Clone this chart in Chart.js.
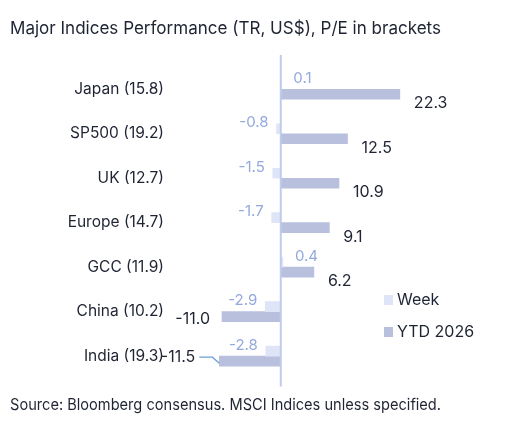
<!DOCTYPE html>
<html>
<head>
<meta charset="utf-8">
<script src="https://cdn.jsdelivr.net/npm/chart.js@4"></script>
<style>
  html, body { margin: 0; padding: 0; background: #fff; }
  #wrap { width: 507px; height: 435px; }
</style>
</head>
<body>
<div id="wrap"><canvas id="chart" width="507" height="435"></canvas></div>
<script>
// --- Data ---
const categories = ['Japan (15.8)', 'SP500 (19.2)', 'UK (12.7)', 'Europe (14.7)', 'GCC (11.9)', 'China (10.2)', 'India (19.3)'];
const weekValues = [0.1, -0.8, -1.5, -1.7, 0.4, -2.9, -2.8];
const ytdValues = [22.3, 12.5, 10.9, 9.1, 6.2, -11.0, -11.5];

const FONT = "Inter, 'Open Sans', sans-serif";
const WEEK_COLOR = '#dfe5f6';
const YTD_COLOR = '#b9c0de';

// --- Value labels + legend + zero line ---
const labelPlugin = {
    id: 'labels',
    afterDatasetsDraw(chart) {
        const ctx = chart.ctx;
        const x = chart.scales.x;
        const area = chart.chartArea;
        ctx.save();
        // zero line
        ctx.strokeStyle = '#bccbee';
        ctx.lineWidth = 2;
        ctx.beginPath();
        ctx.moveTo(x.getPixelForValue(0), area.top - 12);
        ctx.lineTo(x.getPixelForValue(0), area.bottom + 8);
        ctx.stroke();

        ctx.textBaseline = 'middle';
        chart.getDatasetMeta(0).data.forEach((bar, i) => {
            const v = weekValues[i];
            ctx.font = `15px ${FONT}`;
            ctx.fillStyle = '#93a8dc';
            if (v >= 0) { ctx.textAlign = 'left'; ctx.fillText(v.toFixed(1), bar.x + 12, bar.y - 6); }
            else { ctx.textAlign = 'right'; ctx.fillText(v.toFixed(1), bar.x - 8, bar.y - 6); }
        });
        chart.getDatasetMeta(1).data.forEach((bar, i) => {
            const v = ytdValues[i];
            ctx.fillStyle = '#1f2433';
            ctx.font = `16px ${FONT}`;
            if (v >= 0) { ctx.textAlign = 'left'; ctx.fillText(v.toFixed(1), bar.x + 14, bar.y + 9); }
            else if (i === categories.length - 1) {
                ctx.textAlign = 'right';
                ctx.fillText(v.toFixed(1), bar.x - 24, bar.y - 4);
                ctx.strokeStyle = '#6a9fd6';
                ctx.lineWidth = 1.3;
                ctx.beginPath();
                ctx.moveTo(bar.x - 20, bar.y - 4);
                ctx.lineTo(bar.x - 7, bar.y - 4);
                ctx.lineTo(bar.x, bar.y + 2);
                ctx.stroke();
            } else { ctx.textAlign = 'right'; ctx.fillText(v.toFixed(1), bar.x - 12, bar.y + 3); }
        });

        // legend
        ctx.textAlign = 'left';
        ctx.font = `16px ${FONT}`;
        [['Week', WEEK_COLOR, 300], ['YTD 2026', YTD_COLOR, 332]].forEach(([t, c, y]) => {
            ctx.fillStyle = c;
            ctx.fillRect(384, y - 5, 9, 10);
            ctx.fillStyle = '#1f2433';
            ctx.fillText(t, 397, y);
        });
        ctx.restore();
    }
};

new Chart(document.getElementById('chart'), {
    type: 'bar',
    data: {
        labels: categories,
        datasets: [
            { label: 'Week', data: weekValues, backgroundColor: WEEK_COLOR, barThickness: 10 },
            { label: 'YTD 2026', data: ytdValues, backgroundColor: YTD_COLOR, barThickness: 10 },
        ]
    },
    options: {
        indexAxis: 'y',
        responsive: false,
        animation: false,
        layout: { padding: { left: 10, right: 66, top: 10, bottom: 10 } },
        plugins: {
            legend: { display: false },
            tooltip: { enabled: false },
            title: {
                display: true, text: 'Major Indices Performance (TR, US$), P/E in brackets',
                color: '#1f2433', font: { size: 17.5, family: FONT, weight: 'normal' },
                padding: { top: 8, bottom: 28 }
            },
            subtitle: {
                display: true, position: 'bottom', text: 'Source: Bloomberg consensus. MSCI Indices unless specified.',
                color: '#1f2433', font: { size: 15.5, family: FONT }, padding: { top: 18, bottom: 10 }
            }
        },
        scales: {
            x: { min: -12.5, max: 30, display: false, grid: { display: false } },
            y: {
                grid: { display: false },
                border: { display: false },
                afterFit(s) { s.width = 204; },
                ticks: { color: '#1f2433', font: { size: 15.5, family: FONT }, padding: 42 }
            }
        }
    },
    plugins: [labelPlugin]
});
</script>
</body>
</html>
